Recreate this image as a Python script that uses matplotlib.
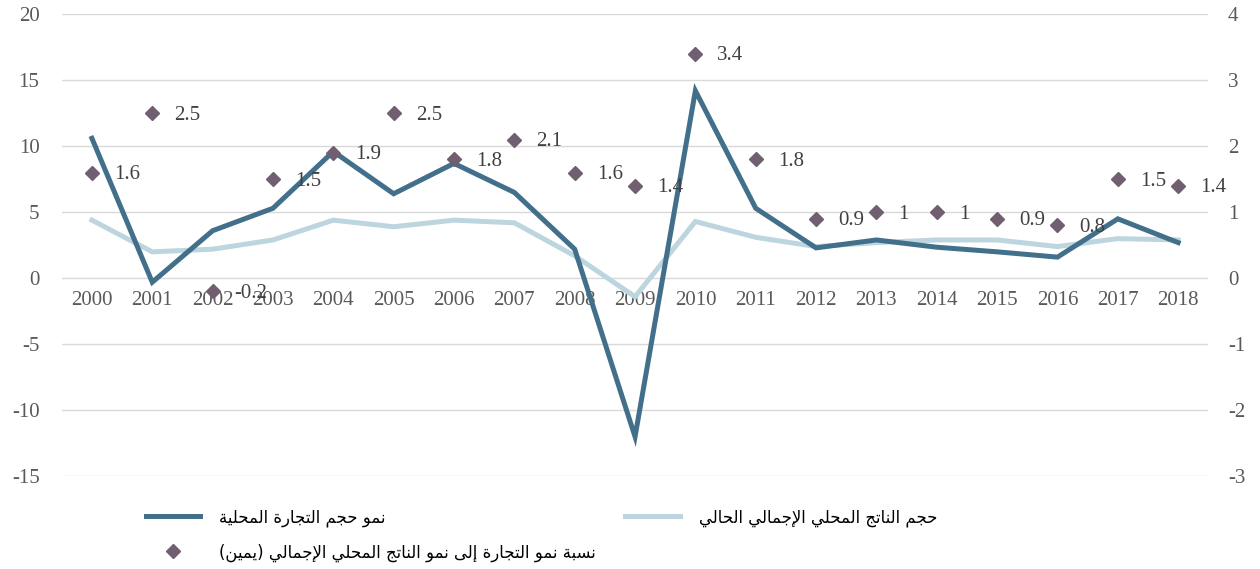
import numpy as np
import matplotlib
matplotlib.use('Agg')
import matplotlib.pyplot as plt
from matplotlib.font_manager import FontProperties

# data
years = [str(y) for y in range(2000, 2019)]
trade_growth = [10.6, -0.3, 3.6, 5.3, 9.6, 6.4, 8.7, 6.5, 2.2, -12.0, 14.2,
                5.3, 2.3, 2.9, 2.35, 2.0, 1.6, 4.5, 2.7]
gdp_growth = [4.4, 2.0, 2.2, 2.9, 4.4, 3.9, 4.4, 4.2, 1.7, -1.4, 4.3,
              3.1, 2.4, 2.7, 2.9, 2.9, 2.4, 3.0, 2.9]
ratio = [1.6, 2.5, -0.2, 1.5, 1.9, 2.5, 1.8, 2.1, 1.6, 1.4, 3.4,
         1.8, 0.9, 1, 1, 0.9, 0.8, 1.5, 1.4]
ratio_labels = ['1.6', '2.5', '-0.2', '1.5', '1.9', '2.5', '1.8', '2.1', '1.6', '1.4',
                '3.4', '1.8', '0.9', '1', '1', '0.9', '0.8', '1.5', '1.4']

label_trade = 'نمو حجم التجارة المحلية'
label_gdp = 'حجم الناتج المحلي الإجمالي الحالي'
label_ratio = 'نسبة نمو التجارة إلى نمو الناتج المحلي الإجمالي (يمين)'

# matplotlib 3.10 has no arabic shaping, so pick presentation forms by hand
FORMS = {
    '\u0627': ('\uFE8D', '\uFE8E', None, None),
    '\u0625': ('\uFE87', '\uFE88', None, None),
    '\u0628': ('\uFE8F', '\uFE90', '\uFE91', '\uFE92'),
    '\u0629': ('\uFE93', '\uFE94', None, None),
    '\u062A': ('\uFE95', '\uFE96', '\uFE97', '\uFE98'),
    '\u062C': ('\uFE9D', '\uFE9E', '\uFE9F', '\uFEA0'),
    '\u062D': ('\uFEA1', '\uFEA2', '\uFEA3', '\uFEA4'),
    '\u0631': ('\uFEAD', '\uFEAE', None, None),
    '\u0633': ('\uFEB1', '\uFEB2', '\uFEB3', '\uFEB4'),
    '\u0644': ('\uFEDD', '\uFEDE', '\uFEDF', '\uFEE0'),
    '\u0645': ('\uFEE1', '\uFEE2', '\uFEE3', '\uFEE4'),
    '\u0646': ('\uFEE5', '\uFEE6', '\uFEE7', '\uFEE8'),
    '\u0648': ('\uFEED', '\uFEEE', None, None),
    '\u0649': ('\uFEEF', '\uFEF0', None, None),
    '\u064A': ('\uFEF1', '\uFEF2', '\uFEF3', '\uFEF4'),
    '\uFEFB': ('\uFEFB', '\uFEFC', None, None),  # lam-alef
    '\uFEF9': ('\uFEF9', '\uFEFA', None, None),  # lam-alef hamza below
}


def shape(s):
    s = s.replace('\u0644\u0627', '\uFEFB').replace('\u0644\u0625', '\uFEF9')
    out = []
    for i, c in enumerate(s):
        if c not in FORMS:
            out.append(c)
            continue
        iso, fin, ini, med = FORMS[c]
        prev = s[i - 1] if i > 0 else ''
        nxt = s[i + 1] if i + 1 < len(s) else ''
        join_prev = prev in FORMS and FORMS[prev][2] is not None
        join_next = ini is not None and nxt in FORMS
        if join_prev and join_next:
            out.append(med)
        elif join_prev:
            out.append(fin)
        elif join_next:
            out.append(ini)
        else:
            out.append(iso)
    mirror = {'(': ')', ')': '('}
    return ''.join(mirror.get(c, c) for c in reversed(out))


plt.rcParams['font.family'] = ['Liberation Serif', 'DejaVu Sans']
plt.rcParams['axes.unicode_minus'] = False

dark = '#42708A'
light = '#BDD5DF'
diamond = '#6F5F70'
tick_col = '#595959'
fs = 15

fig = plt.figure(figsize=(12.6, 5.69), dpi=100)
ax = fig.add_axes([0.049, 0.163, 0.91, 0.812])
x = np.arange(len(years))

ax.plot(x, gdp_growth, color=light, lw=3.6, solid_joinstyle='miter', zorder=3,
        label=shape(label_gdp))
ax.plot(x, trade_growth, color=dark, lw=3.6, solid_joinstyle='miter', zorder=4,
        label=shape(label_trade))

ax.set_xlim(-0.5, len(years) - 0.5)
ax.set_ylim(-15, 20)
ax.set_yticks(range(-15, 21, 5))
ax.grid(axis='y', color='#D9D9D9', lw=1)
ax.set_axisbelow(True)
for s in ax.spines.values():
    s.set_visible(False)
ax.spines['bottom'].set_position(('data', 0))
ax.set_xticks(x)
ax.set_xticklabels(years)
ax.tick_params(axis='x', length=0, pad=9, labelsize=fs, colors=tick_col)
ax.tick_params(axis='y', length=0, pad=16, labelsize=fs, colors=tick_col)

ax2 = ax.twinx()
ax2.set_ylim(-3, 4)
ax2.set_yticks(range(-3, 5))
for s in ax2.spines.values():
    s.set_visible(False)
ax2.tick_params(axis='y', length=0, pad=14, labelsize=fs, colors=tick_col)
ax2.plot(x, ratio, ls='none', marker='D', ms=7.5, color=diamond, zorder=5,
         label=shape(label_ratio))
for xi, v, t in zip(x, ratio, ratio_labels):
    ax2.annotate(t, (xi, v), xytext=(22, -2), textcoords='offset pixels',
                 ha='left', va='center', fontsize=fs, color='#404040')

h1, l1 = ax.get_legend_handles_labels()
h2, l2 = ax2.get_legend_handles_labels()
handles = [h1[1], h2[0], h1[0]]
labels = [l1[1], l2[0], l1[0]]
fig.legend(handles, labels, ncol=2, loc='upper left', bbox_to_anchor=(0.104, 0.133),
           frameon=False, prop=FontProperties(family='DejaVu Sans', size=11.9),
           handlelength=3.3, handletextpad=1.15, columnspacing=1.75, labelspacing=1.0,
           labelcolor='#000000')

fig.savefig('out.png', dpi=100)
